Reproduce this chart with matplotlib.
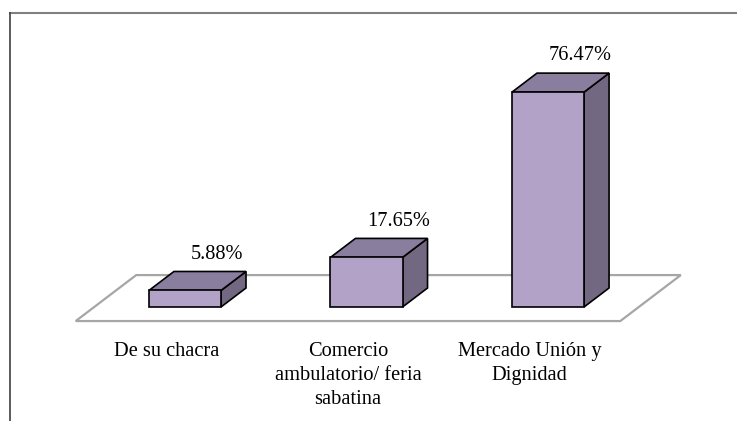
import matplotlib
matplotlib.use("Agg")
import matplotlib.pyplot as plt
from matplotlib.patches import Polygon
from matplotlib.lines import Line2D

# ---- data ----
categories = ["De su chacra", "Comercio\nambulatorio/ feria\nsabatina", "Mercado Unión y\nDignidad"]
values = [5.88, 17.65, 76.47]
value_labels = ["5.88%", "17.65%", "76.47%"]

# ---- style / layout ----
W, H, DPI = 737, 421, 100
FRONT = "#B3A2C7"
TOP = "#8A7E9E"
SIDE = "#726882"
EDGE = "#000000"
FLOOR = "#A6A6A6"
BAR_W = 0.397          # category units
DX, DY = 0.1377, 6.76  # depth offset (x in category units, y in % units)
FLOOR_D0, FLOOR_D1 = -0.74, 1.68
plt.rcParams['font.family'] = ['Liberation Serif', 'DejaVu Serif']
FS = 14.7

fig = plt.figure(figsize=(W / DPI, H / DPI), dpi=DPI)
ax = fig.add_axes([0, 0, 1, 1])
ax.set_xlim(-1.019, 3.041)
ax.set_ylim(-40.57, 109.25)
ax.axis("off")

n = len(values)
# floor
x0, x1 = -0.5, n - 0.5
floor = [(x0 + FLOOR_D0 * DX, FLOOR_D0 * DY), (x1 + FLOOR_D0 * DX, FLOOR_D0 * DY),
         (x1 + FLOOR_D1 * DX, FLOOR_D1 * DY), (x0 + FLOOR_D1 * DX, FLOOR_D1 * DY)]
ax.add_patch(Polygon(floor, closed=True, facecolor="none", edgecolor=FLOOR, lw=1.6, zorder=1))

label_dy = [12, 16, 11]
for i, v in enumerate(values):
    l, r = i - BAR_W / 2, i + BAR_W / 2
    front = [(l, 0), (r, 0), (r, v), (l, v)]
    top = [(l, v), (r, v), (r + DX, v + DY), (l + DX, v + DY)]
    side = [(r, 0), (r + DX, DY), (r + DX, v + DY), (r, v)]
    for pts, col in ((side, SIDE), (top, TOP), (front, FRONT)):
        ax.add_patch(Polygon(pts, closed=True, facecolor=col, edgecolor=EDGE,
                             lw=1.2, joinstyle="miter", zorder=3))
    ax.annotate(value_labels[i], xy=(i + DX / 2, v + DY), xytext=(14, 12.5),
                textcoords="offset points", ha="center", va="center",
                fontsize=FS, color="#000000", zorder=5)
    ax.text(i + FLOOR_D0 * DX, -12.4, categories[i], ha="center", va="top",
            fontsize=FS, linespacing=1.36, color="#000000")

# outer chart frame
fig.add_artist(Line2D([10 / W, 1], [1 - 13 / H, 1 - 13 / H], transform=fig.transFigure,
                      color="#808080", lw=1.5))
fig.add_artist(Line2D([10 / W, 10 / W], [0, 1 - 13 / H], transform=fig.transFigure,
                      color="#404040", lw=1.2))

fig.savefig("out.png", dpi=DPI)
